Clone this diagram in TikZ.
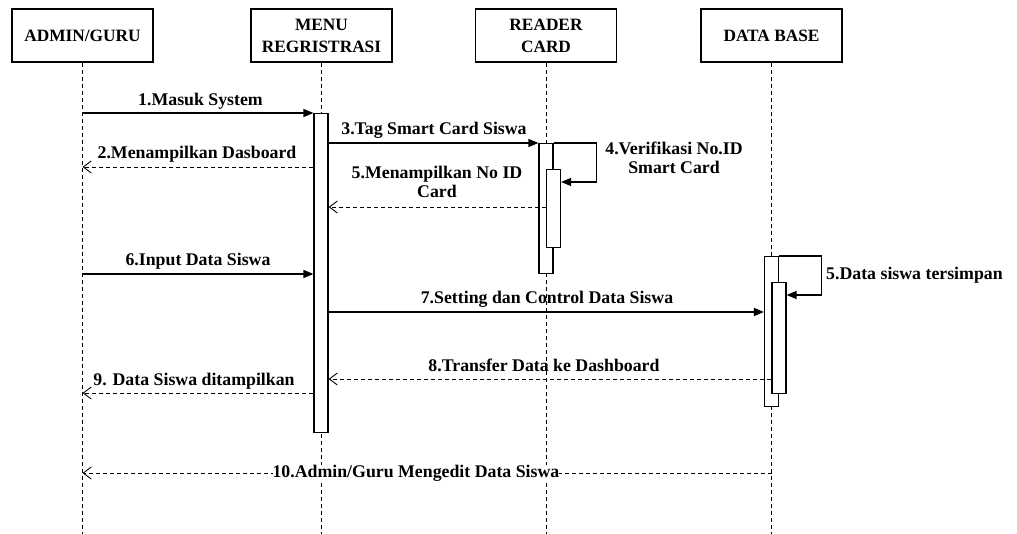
\documentclass[tikz,border=0pt]{standalone}
\usepackage{fontspec}
\setmainfont{Liberation Serif}
\usetikzlibrary{arrows.meta}
\begin{document}
\begin{tikzpicture}[x=1pt,y=-1pt,
  font=\fontsize{17.8}{19}\selectfont\bfseries,
  hdr/.style={draw,line width=1.2pt,minimum width=141pt,minimum height=53pt,align=center,inner sep=0pt,fill=white,font=\fontsize{17.3}{22}\selectfont\bfseries},
  life/.style={line width=0.9pt,dash pattern=on 4pt off 3pt},
  bar/.style={draw,fill=white,line width=1.2pt,minimum width=14pt,inner sep=0pt,anchor=north},
  sync/.style={line width=1.2pt,-{Triangle[length=10pt,width=8pt]}},
  ret/.style={line width=0.9pt,dash pattern=on 4pt off 3pt,-{Straight Barb[length=8pt,width=12pt,line width=0.9pt]}},
  lbl/.style={anchor=base,inner sep=0pt,align=center}]
\useasboundingbox (0,0) rectangle (1017,534);
\fill[white] (0,0) rectangle (1017,534);
% headers
\node[hdr] (admin) at (82.5,35.5) {ADMIN/GURU};
\node[hdr] (menu) at (321.5,35.5) {MENU\\REGRISTRASI};
\node[hdr] (reader) at (546,35.5) {READER\\CARD};
\node[hdr] (db) at (771.5,35.5) {DATA BASE};
% lifelines
\coordinate (adminEnd) at (82.5,534);
\coordinate (menuEnd) at (321.5,534);
\coordinate (readerEnd) at (546,534);
\coordinate (dbEnd) at (771.5,534);
\draw[life] (admin.south) -- (adminEnd);
\draw[life] (menu.south) -- (menuEnd);
\draw[life] (reader.south) -- (readerEnd);
\draw[life] (db.south) -- (dbEnd);
% activation bars
\node[bar,minimum height=319pt] (mbar) at (321,113) {};
\node[bar,minimum height=130pt] (rbar1) at (546,143) {};
\node[bar,minimum height=78pt] (rbar2) at (553.5,169) {};
\node[bar,minimum height=150pt] (dbar1) at (771.5,256) {};
\node[bar,minimum height=111pt] (dbar2) at (779,282) {};
% messages
\draw[sync] (admin.south |- 0,113) -- (mbar.north west);
\node[lbl] (l1) at (200.5,105.5) {1.Masuk System};
\draw[sync] (mbar.east |- 0,143) -- (rbar1.north west);
\node[lbl] (l3) at (434,135) {3.Tag Smart Card Siswa};
\draw[ret] (mbar.west |- 0,167) -- (admin.south |- 0,167);
\node[lbl] (l2) at (197,159) {2.Menampilkan Dasboard};
\draw[sync] (rbar1.north east) -- ++(43,0) |- (rbar2.east |- 0,182);
\node[lbl] (l4) at (674,174) {4.Verifikasi No.ID\\Smart Card};
\draw[ret] (rbar2.west |- 0,207) -- (mbar.east |- 0,207);
\node[lbl] (l5) at (437,198) {5.Menampilkan No ID\\Card};
\draw[sync] (admin.south |- 0,274) -- (mbar.west |- 0,274);
\node[lbl] (l6) at (198,266) {6.Input Data Siswa};
\draw[sync] (dbar1.north east) -- ++(42,0) |- (dbar2.east |- 0,295);
\node[lbl,anchor=base west] (l5b) at (826,280) {5.Data siswa tersimpan};
\draw[sync] (mbar.east |- 0,312) -- (dbar1.west |- 0,312);
\node[lbl] (l7) at (547,304) {7.Setting dan Control Data Siswa};
\draw[ret] (dbar2.west |- 0,379) -- (mbar.east |- 0,379);
\node[lbl] (l8) at (544,371) {8.Transfer Data ke Dashboard};
\draw[ret] (mbar.west |- 0,393) -- (admin.south |- 0,393);
\node[lbl] (l9) at (194,385) {9. Data Siswa ditampilkan};
\draw[ret] (db.south |- 0,473) -- node[pos=0.516,fill=white,inner sep=0pt] (l10) {10.Admin/Guru Mengedit Data Siswa} (admin.south |- 0,473);
\end{tikzpicture}
\end{document}
